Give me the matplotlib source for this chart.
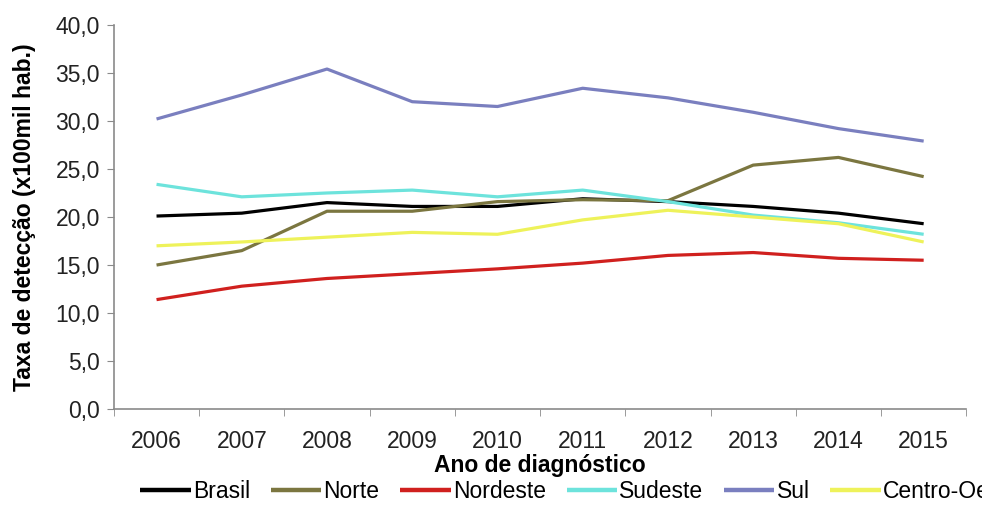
import matplotlib
matplotlib.use("Agg")
import matplotlib.pyplot as plt
from matplotlib.ticker import FuncFormatter, FixedLocator

plt.rcParams['font.family'] = ['Liberation Sans', 'DejaVu Sans']

# taxa de detecção por região (x100mil hab.)
anos = ['2006', '2007', '2008', '2009', '2010', '2011', '2012', '2013', '2014', '2015']
brasil = [20.1, 20.4, 21.5, 21.1, 21.1, 21.9, 21.6, 21.1, 20.4, 19.3]
norte = [15.0, 16.5, 20.6, 20.6, 21.6, 21.8, 21.7, 25.4, 26.2, 24.2]
nordeste = [11.4, 12.8, 13.6, 14.1, 14.6, 15.2, 16.0, 16.3, 15.7, 15.5]
sudeste = [23.4, 22.1, 22.5, 22.8, 22.1, 22.8, 21.6, 20.2, 19.4, 18.2]
sul = [30.2, 32.7, 35.4, 32.0, 31.5, 33.4, 32.4, 30.9, 29.2, 27.9]
centro_oeste = [17.0, 17.4, 17.9, 18.4, 18.2, 19.7, 20.7, 20.0, 19.3, 17.4]

series = [
    ('Brasil', brasil, '#000000'),
    ('Norte', norte, '#7b7640'),
    ('Nordeste', nordeste, '#d0201e'),
    ('Sudeste', sudeste, '#6de3dc'),
    ('Sul', sul, '#7a7fbf'),
    ('Centro-Oeste', centro_oeste, '#eef25a'),
]

fig = plt.figure(figsize=(9.82, 5.07), dpi=100)
ax = fig.add_axes([0.116, 0.193, 0.868, 0.758])

x = list(range(len(anos)))
for nome, vals, cor in series:
    ax.plot(x, vals, color=cor, lw=2.3, label=nome, solid_capstyle='butt')

ax.set_xlim(-0.5, len(anos) - 0.5)
ax.set_ylim(0, 40)
ax.set_yticks(range(0, 41, 5))
ax.yaxis.set_major_formatter(FuncFormatter(lambda v, p: f"{v:.1f}".replace('.', ',')))
ax.set_xticks(x)
ax.set_xticklabels(anos)
ax.xaxis.set_minor_locator(FixedLocator([i - 0.5 for i in range(len(anos) + 1)]))

for s in ['top', 'right']:
    ax.spines[s].set_visible(False)
for s in ['left', 'bottom']:
    ax.spines[s].set_color('#8a8a8a')
    ax.spines[s].set_linewidth(1.2)

fs = 16.5
ax.tick_params(axis='y', length=5, color='#8a8a8a', labelsize=fs, labelcolor='#222222', pad=5)
ax.tick_params(axis='x', which='major', length=0, labelsize=fs, labelcolor='#222222', pad=15)
ax.tick_params(axis='x', which='minor', length=5, color='#8a8a8a')

ax.set_ylabel('Taxa de detecção (x100mil hab.)', fontsize=fs, fontweight='bold', labelpad=14)
ax.set_xlabel('Ano de diagnóstico', fontsize=fs, fontweight='bold', labelpad=1)

leg = fig.legend(loc='center left', bbox_to_anchor=(0.143, 0.03), ncol=6, frameon=False,
                 fontsize=fs, handlelength=2.2, handletextpad=0.1, columnspacing=0.9,
                 borderpad=0, borderaxespad=0)
for ln in leg.get_lines():
    ln.set_linewidth(3.2)

fig.savefig('out.png', dpi=100)
